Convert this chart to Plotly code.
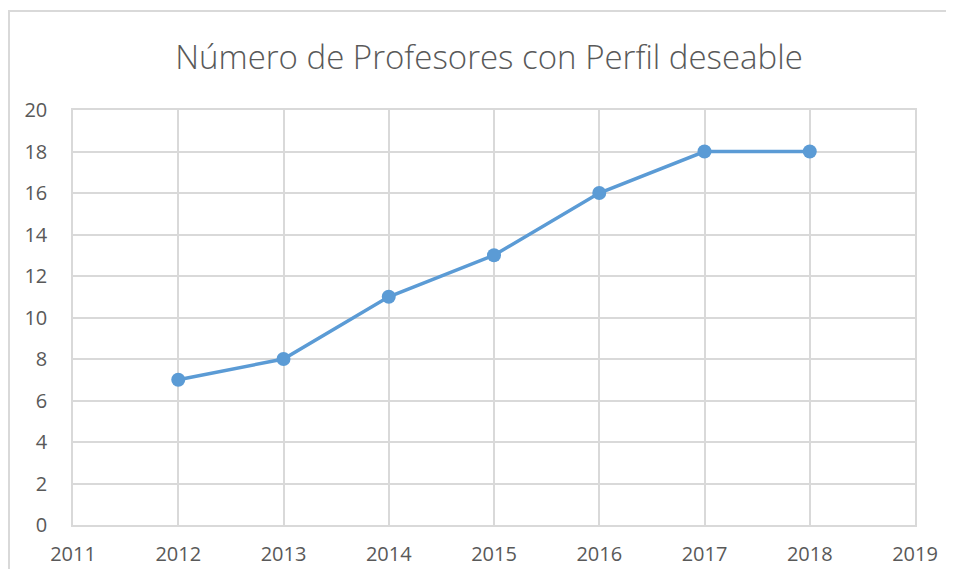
import plotly.graph_objects as go

years = [2012, 2013, 2014, 2015, 2016, 2017, 2018]
profesores = [7, 8, 11, 13, 16, 18, 18]
title_text = "Número de Profesores con Perfil deseable"

# page body has an 8px margin; figure sized to fit window
OFF = 8
W, H = 954 - 2 * OFF, 577 - 2 * OFF
# plot area in screen pixels
SL, SR, ST, SB = 73, 915, 110, 525
L, R, T, B = SL - OFF, SR - OFF, ST - OFF, SB - OFF

fig = go.Figure()
fig.add_trace(go.Scatter(
    x=years, y=profesores, mode="lines+markers",
    line=dict(color="#5B9BD5", width=3.5),
    marker=dict(color="#5B9BD5", size=14),
    showlegend=False, hoverinfo="x+y"))

pw, ph = R - L, B - T
def px(x): return (x - L) / pw
def py(y): return (B - y) / ph

fig.update_layout(
    width=W, height=H,
    margin=dict(l=L, r=W - R, t=T, b=H - B, pad=0, autoexpand=False),
    paper_bgcolor="white", plot_bgcolor="white",
    title=dict(text=title_text, x=(489 - OFF) / W, xanchor="center",
               y=1 - (57 - OFF) / H, yanchor="middle",
               font=dict(family="Open Sans", size=33, weight=300, color="#595959")),
    font=dict(family="Open Sans", size=20, color="#595959"),
    xaxis=dict(range=[2011, 2019], dtick=1, tick0=2011, showgrid=True, gridcolor="#d9d9d9",
               gridwidth=1.5, showline=True, linecolor="#d9d9d9", linewidth=1.5, mirror=True,
               zeroline=False, ticks="", ticklabelstandoff=10, automargin=False,
               tickfont=dict(size=20, color="#595959")),
    yaxis=dict(range=[0, 20], dtick=2, showgrid=True, gridcolor="#d9d9d9", gridwidth=1.5,
               showline=True, linecolor="#d9d9d9", linewidth=1.5, mirror=True, zeroline=False,
               ticks="", ticklabelstandoff=20, automargin=False,
               tickfont=dict(size=20, color="#595959")),
    shapes=[dict(type="rect", xref="paper", yref="paper",
                 x0=px(1), x1=px(W + 20), y0=py(H + 20), y1=py(3),
                 line=dict(color="#d9d9d9", width=2), fillcolor="rgba(0,0,0,0)", layer="below")],
)

fig.write_html("out.html")
